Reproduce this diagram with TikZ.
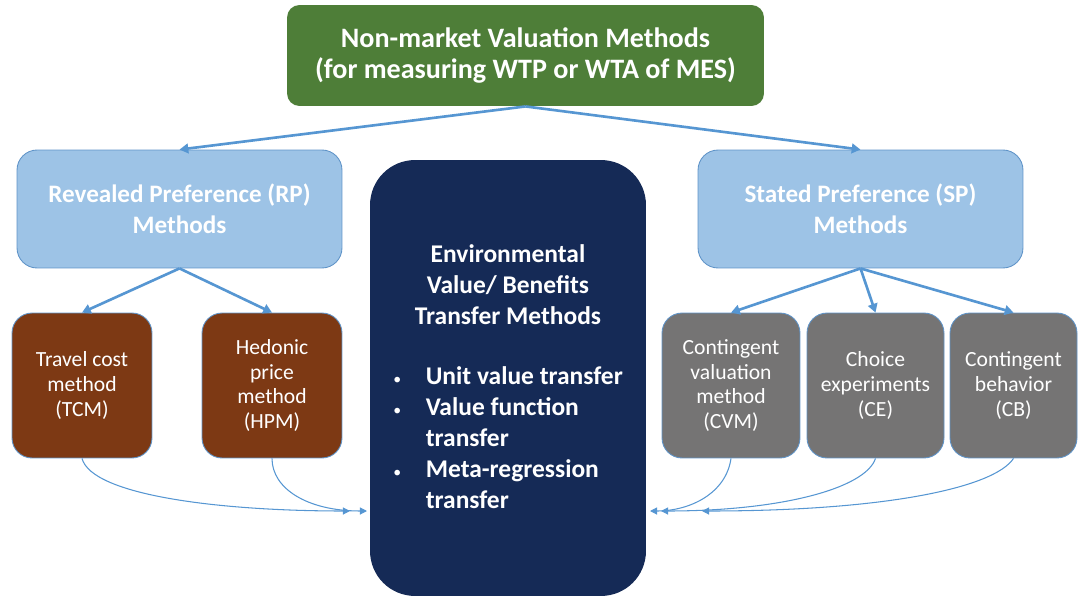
\documentclass[tikz,border=0pt]{standalone}
\usepackage{fontspec}
\setmainfont{Carlito}
\usetikzlibrary{arrows.meta}
\definecolor{topgreen}{RGB}{78,126,56}
\definecolor{prefblue}{RGB}{157,195,230}
\definecolor{prefborder}{RGB}{96,148,200}
\definecolor{navy}{RGB}{21,42,86}
\definecolor{rpbrown}{RGB}{125,57,20}
\definecolor{spgray}{RGB}{117,116,116}
\definecolor{arrowblue}{RGB}{86,150,210}
\begin{document}
\begin{tikzpicture}[x=0.02cm,y=-0.02cm,
 box/.style={rounded corners=0.4cm,align=center,text=white,inner sep=2pt,draw=prefborder,line width=0.5pt},
 pref/.style={box,fill=prefblue,minimum width=6.5cm,minimum height=2.36cm,font=\bfseries\fontsize{14.3}{17.6}\selectfont},
 method/.style={box,minimum height=2.9cm,font=\fontsize{12.3}{14.2}\selectfont},
 bigarrow/.style={draw=arrowblue,line width=1.5pt,-{Triangle[length=5pt,width=5.5pt]}},
 thinarrow/.style={draw=arrowblue,line width=0.6pt,-{Triangle[length=4pt,width=4pt]}}]
\useasboundingbox (0,0) rectangle (1078,598);
\node[box,fill=topgreen,draw=none,rounded corners=0.25cm,minimum width=9.54cm,minimum height=2.02cm,font=\bfseries\fontsize{16}{18.2}\selectfont] (nmv) at (525.5,55.5) {Non-market Valuation Methods\\(for measuring WTP or WTA of MES)};
\node[pref] (rp) at (179.5,209) {Revealed Preference (RP)\\Methods};
\node[pref] (sp) at (860.5,209) {Stated Preference (SP)\\Methods};
\node[box,fill=navy,draw=none,rounded corners=0.9cm,minimum width=5.52cm,minimum height=8.72cm] (evt) at (508,378) {};
\node[text=white,align=center,font=\bfseries\fontsize{14.5}{17.6}\selectfont] (evth) at (508,285) {Environmental\\Value/ Benefits\\Transfer Methods};
\node[text=white,anchor=west,inner sep=0pt,font=\bfseries\fontsize{14.5}{17.6}\selectfont] (evtl) at (393,440)
 {\begin{tabular}{@{}l@{\hspace{14pt}}l@{}}
 {\mdseries\small\textbullet} & Unit value transfer\\
 {\mdseries\small\textbullet} & Value function\\
  & transfer\\
 {\mdseries\small\textbullet} & Meta-regression\\
  & transfer
 \end{tabular}};
\node[method,fill=rpbrown,minimum width=2.8cm] (tcm) at (82,385.5) {Travel cost\\method\\(TCM)};
\node[method,fill=rpbrown,minimum width=2.8cm] (hpm) at (272,385.5) {Hedonic\\price\\method\\(HPM)};
\node[method,fill=spgray,minimum width=2.76cm] (cvm) at (731,385.5) {Contingent\\valuation\\method\\(CVM)};
\node[method,fill=spgray,minimum width=2.74cm] (ce) at (875.5,385.5) {Choice\\experiments\\(CE)};
\node[method,fill=spgray,minimum width=2.54cm] (cb) at (1013.5,385.5) {Contingent\\behavior\\(CB)};
\draw[bigarrow] (nmv.south) -- (rp.north);
\draw[bigarrow] (nmv.south) -- (sp.north);
\draw[bigarrow] (rp.south) -- (tcm.north);
\draw[bigarrow] (rp.south) -- (hpm.north);
\draw[bigarrow] (sp.south) -- (cvm.north);
\draw[bigarrow] (sp.south) -- (ce.north);
\draw[bigarrow] (sp.south) -- (cb.north);
\coordinate (tcmin) at (350,511);
\coordinate (hpmin) at (367,511);
\coordinate (cvmin) at (650,511);
\coordinate (cein) at (661,511);
\coordinate (cbin) at (702,511);
\draw[thinarrow] (tcm.south) .. controls +(10,37) and +(-130,0) .. (tcmin);
\draw[thinarrow] (hpm.south) .. controls +(0,30) and +(-60,0) .. (hpmin);
\draw[thinarrow] (cvm.south) .. controls +(-5,35) and +(40,0) .. (cvmin);
\draw[thinarrow] (ce.south) .. controls +(-10,30) and +(120,0) .. (cein);
\draw[thinarrow] (cb.south) .. controls +(-20,30) and +(180,0) .. (cbin);
\end{tikzpicture}
\end{document}
